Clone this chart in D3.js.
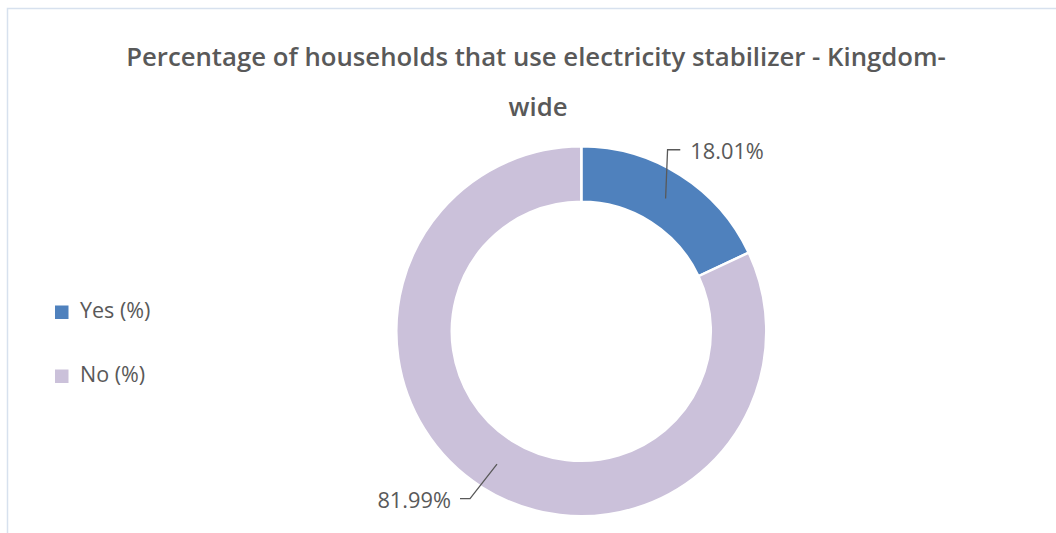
<!DOCTYPE html>
<html>
<head>
<meta charset="utf-8">
<script src="https://cdn.jsdelivr.net/npm/d3@7/dist/d3.min.js"></script>
<style>
  html, body { margin: 0; padding: 0; background: #ffffff; }
  svg { display: block; }
  text { font-family: "Open Sans", "Noto Sans", sans-serif; }
</style>
</head>
<body>
<svg id="chart" width="1056" height="533"></svg>
<script>
// ---- data ----
const titleLines = ["Percentage of households that use electricity stabilizer - Kingdom-", "wide"];
const categories = ["Yes (%)", "No (%)"];
const values = [18.01, 81.99];
const valueLabels = ["18.01%", "81.99%"];
const colors = ["#4f81bd", "#cbc1da"];

// ---- layout ----
const W = 1056, H = 533;
const cx = 581.3, cy = 331.3;
const outerR = 185, innerR = 129.5;
const textColor = "#595959";

const svg = d3.select("#chart");
svg.append("rect").attr("width", W).attr("height", H).attr("fill", "#fff");

// frame (partially visible chart border)
svg.append("path")
  .attr("d", `M7.5,${H + 5} L7.5,8.5 L${W + 5},8.5`)
  .attr("fill", "none").attr("stroke", "#d7e1ee").attr("stroke-width", 1.5);

// title
const titleG = svg.append("g");
const t1 = titleG.append("text").attr("x", 536).attr("y", 66)
  .attr("text-anchor", "middle").attr("fill", textColor)
  .attr("font-weight", 600).attr("font-size", 26).text(titleLines[0]);
const len = t1.node().getComputedTextLength();
const fs = 26 * 820 / len;
t1.attr("font-size", fs);
titleG.append("text").attr("x", 538).attr("y", 116)
  .attr("text-anchor", "middle").attr("fill", textColor)
  .attr("font-weight", 600).attr("font-size", fs).text(titleLines[1]);

// donut
const pie = d3.pie().sort(null).value(d => d)(values);
const arc = d3.arc().innerRadius(innerR).outerRadius(outerR);
const g = svg.append("g").attr("transform", `translate(${cx},${cy})`);
g.selectAll("path.slice").data(pie).join("path")
  .attr("class", "slice")
  .attr("d", arc)
  .attr("fill", (d, i) => colors[i])
  .attr("stroke", "#ffffff").attr("stroke-width", 2.5);

// leader lines + labels
const midR = (innerR + outerR) / 2;
const elbowR = 201;
const elbowOffset = [-7 * Math.PI / 180, 1.2 * Math.PI / 180];
const pt = (r, a) => [Math.sin(a) * r, -Math.cos(a) * r];
pie.forEach((d, i) => {
  const mid = (d.startAngle + d.endAngle) / 2;
  const p0 = pt(midR, mid);
  const p1 = pt(elbowR, mid + elbowOffset[i]);
  const right = p1[0] > 0;
  const p2 = [p1[0] + (right ? 12.7 : -10), p1[1]];
  g.append("polyline")
    .attr("points", [p0, p1, p2].map(p => p.join(",")).join(" "))
    .attr("fill", "none").attr("stroke", "#595959").attr("stroke-width", 1.3);
  g.append("text")
    .attr("x", p2[0] + (right ? 10 : -9))
    .attr("y", p2[1] + 9.5)
    .attr("text-anchor", right ? "start" : "end")
    .attr("fill", textColor).attr("font-size", 21.8)
    .text(valueLabels[i]);
});

// legend
const legend = svg.append("g").attr("transform", "translate(55,305.5)");
categories.forEach((c, i) => {
  const row = legend.append("g").attr("transform", `translate(0,${i * 64})`);
  row.append("rect").attr("width", 13.5).attr("height", 13.5).attr("fill", colors[i]);
  row.append("text").attr("x", 25).attr("y", 12)
    .attr("fill", textColor).attr("font-size", 21.5).text(c);
});
</script>
</body>
</html>
